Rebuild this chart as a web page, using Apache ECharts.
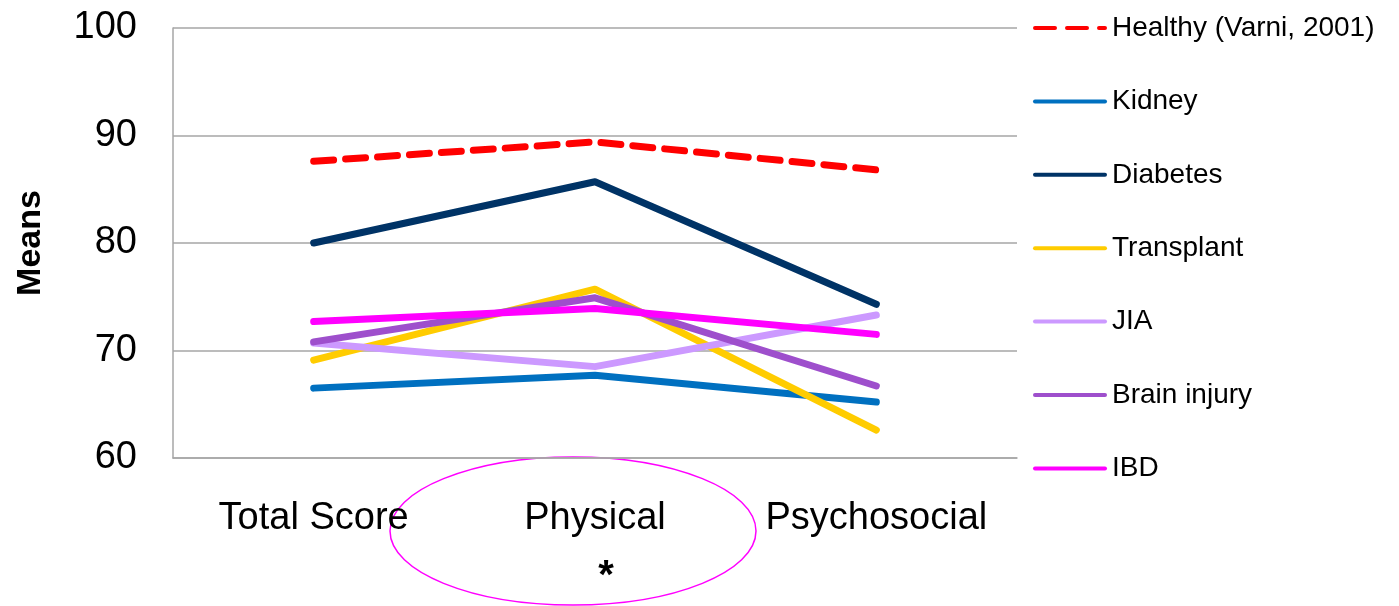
<!DOCTYPE html>
<html>
<head>
<meta charset="utf-8">
<script src="https://cdn.jsdelivr.net/npm/echarts@6/dist/echarts.min.js"></script>
<style>
  html, body { margin: 0; padding: 0; background: #ffffff; }
  #chart { width: 1399px; height: 606px; }
</style>
</head>
<body>
<div id="chart"></div>
<script>
// PedsQL domain means by group
const categories = ['Total Score', 'Physical', 'Psychosocial'];
const healthy    = [87.6, 89.4, 86.8];
const kidney     = [66.5, 67.7, 65.2];
const diabetes   = [80.0, 85.7, 74.3];
const transplant = [69.1, 75.7, 62.6];
const jia        = [70.7, 68.5, 73.3];
const brainInjury = [70.8, 74.9, 66.7];
const ibd        = [72.7, 73.9, 71.5];
const yTicks     = [60, 70, 80, 90, 100];

const FONT = '"Liberation Sans", Arial, sans-serif';

function lineSeries(name, data, color, type) {
  return {
    name: name,
    type: 'line',
    data: data,
    symbol: 'none',
    showSymbol: false,
    animation: false,
    itemStyle: { color: color },
    lineStyle: { color: color, width: 7, type: type || 'solid', cap: 'round', join: 'round' }
  };
}

const chart = echarts.init(document.getElementById('chart'), null, { renderer: 'canvas' });
chart.setOption({
  backgroundColor: '#ffffff',
  animation: false,
  grid: { left: 173, right: 382, top: 28, bottom: 148, containLabel: false },
  legend: {
    orient: 'vertical',
    left: 1033,
    top: 14,
    padding: 0,
    itemWidth: 70,
    itemHeight: 30,
    itemGap: 45.4,
    itemStyle: { opacity: 0 },
    lineStyle: { width: 4 },
    textStyle: { fontFamily: FONT, fontSize: 28, color: '#000000', padding: [0, 0, 0, 2] },
    data: ['Healthy (Varni, 2001)', 'Kidney', 'Diabetes', 'Transplant', 'JIA', 'Brain injury', 'IBD']
  },
  xAxis: {
    type: 'category',
    data: categories,
    boundaryGap: true,
    axisLine: { show: true, lineStyle: { color: '#a6a6a6', width: 1.5 } },
    axisTick: { show: false },
    axisLabel: { interval: 0, fontFamily: FONT, fontSize: 38, color: '#000000', margin: 42 },
    splitLine: { show: false }
  },
  yAxis: {
    type: 'value',
    min: yTicks[0],
    max: yTicks[yTicks.length - 1],
    interval: 10,
    name: 'Means',
    nameLocation: 'middle',
    nameGap: 125,
    nameRotate: 90,
    nameTextStyle: { fontFamily: FONT, fontSize: 34, fontWeight: 'bold', color: '#000000' },
    axisLine: { show: true, lineStyle: { color: '#a6a6a6', width: 1.5 } },
    axisTick: { show: false },
    axisLabel: { fontFamily: FONT, fontSize: 38, color: '#000000', margin: 36 },
    splitLine: { show: true, lineStyle: { color: '#a6a6a6', width: 1.5 } }
  },
  series: [
    lineSeries('Healthy (Varni, 2001)', healthy, '#ff0000', [20, 12]),
    lineSeries('Kidney', kidney, '#0070c0'),
    lineSeries('Diabetes', diabetes, '#003366'),
    lineSeries('Transplant', transplant, '#ffcc00'),
    lineSeries('JIA', jia, '#cc99ff'),
    lineSeries('Brain injury', brainInjury, '#9e4fcc'),
    lineSeries('IBD', ibd, '#ff00ff')
  ],
  graphic: [
    {
      type: 'ellipse',
      shape: { cx: 573, cy: 531, rx: 183, ry: 74 },
      style: { fill: 'none', stroke: '#ff00ff', lineWidth: 1.5 },
      silent: true
    },
    {
      type: 'text',
      x: 606,
      y: 577,
      style: { text: '*', font: 'bold 40px ' + FONT, fill: '#000000', textAlign: 'center', textVerticalAlign: 'middle' },
      silent: true
    }
  ]
});
</script>
</body>
</html>
